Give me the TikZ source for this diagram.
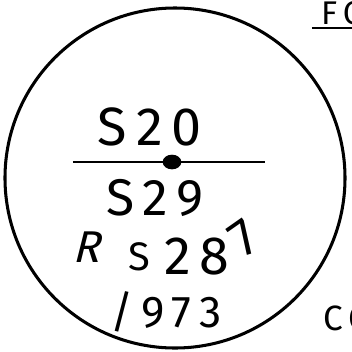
\documentclass[tikz,border=0pt]{standalone}
\usepackage{fontspec}
\usepackage{tikz}
\newfontfamily\handfont{Fira Sans}
\begin{document}
\begin{tikzpicture}[
  x=0.03cm, y=-0.03cm,
  hand/.style={inner sep=0, font=\handfont\fontsize{#1}{#1}\selectfont},
  rim/.style={line width=2.6pt},
  bar/.style={line width=1.6pt}
]
\useasboundingbox (0,0) rectangle (352,351);
\clip (0,0) rectangle (352,351);
\node[circle, rim, draw, minimum size=10.2cm, inner sep=0] (seal) at (175,178) {};
\node[hand=46] (top) at (150,127) {S\,2\,0};
\coordinate (barL) at (73,162);
\coordinate (barR) at (265,162);
\coordinate (mid) at (172,162);
\draw[bar] (barL) -- (barR);
\fill (mid) ellipse (0.28cm and 0.22cm);
\node[hand=44] (bot) at (155,198) {S\,2\,9};
\node[hand=38, xslant=0.25] (rsR) at (90,247) {R};
\node[hand=34] (rsS) at (139,257) {S};
\node[hand=46] (rsNum) at (197,257) {2\,8};
\node[hand=44, rotate=35] (rsSeven) at (244,238) {7};
\node[hand=38] (year) at (166,312) {/\,9\,7\,3};
\node[hand=28, anchor=west] (fo) at (321,13) {F\,O};
\draw[bar] ([xshift=-0.27cm, yshift=-0.1cm]fo.south west) -- ([yshift=-0.1cm]fo.south east);
\node[hand=30, anchor=west] (co) at (323,318) {C\,O};
\end{tikzpicture}
\end{document}
